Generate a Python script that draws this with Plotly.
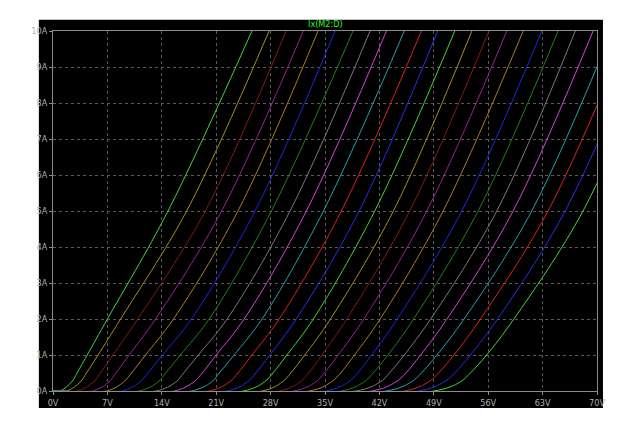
import plotly.graph_objects as go

# Ix(M2:D) family, 25 stepped runs, voltage (V) where each run reaches a given current
onset_v = [0.9, 1.8, 3.2, 5.1, 6.9, 8.9, 11.1, 13.3, 15.6, 17.8, 20.1, 22.4, 24.5, 26.9, 29.1,
           31.0, 33.0, 35.1, 37.1, 39.0, 41.0, 42.9, 45.2, 47.1, 49.0]
at_025A = [2.4, 3.5, 5.2, 7.2, 9.1, 11.2, 13.5, 15.8, 18.1, 20.4, 22.7, 25.0, 27.2, 29.5, 31.8,
           33.8, 35.8, 38.0, 40.0, 42.1, 44.1, 46.1, 48.3, 50.3, 52.4]
at_05A = [3.1, 4.3, 6.1, 8.1, 10.1, 12.2, 14.5, 16.8, 19.2, 21.4, 23.8, 26.1, 28.3, 30.6, 32.9,
          34.9, 37.0, 39.2, 41.2, 43.3, 45.4, 47.4, 49.6, 51.7, 53.7]
at_1A = [4.4, 5.8, 7.7, 9.8, 11.9, 14.1, 16.4, 18.7, 21.0, 23.3, 25.6, 27.9, 30.1, 32.4, 34.6,
         36.7, 38.8, 41.0, 43.1, 45.2, 47.3, 49.4, 51.6, 53.7, 55.8]
at_2A = [7.0, 8.7, 10.9, 13.2, 15.5, 17.8, 20.1, 22.4, 24.6, 26.9, 29.1, 31.3, 33.5, 35.7, 37.8,
         40.0, 42.1, 44.3, 46.4, 48.6, 50.7, 52.9, 55.0, 57.2, 59.3]
at_5A = [14.8, 17.2, 19.6, 21.7, 23.8, 26.0, 28.1, 30.5, 32.6, 34.8, 37.1, 39.4, 41.4, 43.8, 45.9,
         48.1, 50.2, 52.6, 54.7, 57.1, 59.2, 61.6, 63.7, 65.9, 68.2]
at_10A = [25.6, 27.8, 30.0, 32.2, 34.1, 36.3, 38.6, 40.8, 42.9, 45.2, 47.4, 49.5, 51.7, 53.9, 56.1,
          58.4, 60.5, 62.9, 65.0, 67.2, 69.5, 71.9, 74.0, 76.2, 78.5]
levels = [0, 0, 0.25, 0.5, 1, 2, 5, 10]

step_colors = ["#3cd83c", "#a09020", "#881818", "#9c209c", "#a87c24", "#2424d8",
               "#1f801f", "#7a7a7a", "#dc40dc", "#20a4a4", "#dc2020", "#2c2ce8"]

x_ticks = [0, 7, 14, 21, 28, 35, 42, 49, 56, 63, 70]
x_labels = ["0V", "7V", "14V", "21V", "28V", "35V", "42V", "49V", "56V", "63V", "70V"]
y_ticks = list(range(0, 11))
y_labels = [f"{v}A" for v in y_ticks]

fig = go.Figure()
for i in range(len(at_10A)):
    xs = [0, onset_v[i], at_025A[i], at_05A[i], at_1A[i], at_2A[i], at_5A[i], at_10A[i]]
    fig.add_trace(go.Scatter(x=xs, y=levels, mode="lines",
                             line=dict(color=step_colors[i % 12], width=1, shape="spline"),
                             hoverinfo="skip", showlegend=False))

label_font = dict(family="Liberation Sans Narrow, DejaVu Sans Condensed, sans-serif",
                  size=9, color="#b0b0b0")
axis_common = dict(showline=True, linecolor="#8c8c8c", linewidth=1, mirror=True,
                   showgrid=True, gridcolor="#5a5a5a", griddash="dot", gridwidth=1,
                   zeroline=False, ticks="outside", ticklen=3, tickcolor="#8c8c8c",
                   tickfont=label_font)

# page body adds ~8px offset, margins compensate for it
fig.update_layout(
    width=640, height=430,
    margin=dict(l=45, r=51, t=23, b=47),
    paper_bgcolor="white", plot_bgcolor="black",
    xaxis=dict(range=[0, 70], tickvals=x_ticks, ticktext=x_labels, **axis_common),
    yaxis=dict(range=[0, 10], tickvals=y_ticks, ticktext=y_labels, **axis_common),
    shapes=[dict(type="rect", xref="paper", yref="paper", x0=-0.026, x1=1.011,
                 y0=-0.047, y1=1.031, fillcolor="black", line_width=0, layer="below")],
    annotations=[dict(text="Ix(M2:D)", xref="paper", yref="paper", x=0.5, y=1.0,
                      yanchor="bottom", showarrow=False,
                      font=dict(family="Liberation Sans Narrow, DejaVu Sans Condensed, sans-serif",
                                size=9, color="#20ff20"))],
)

fig.write_html("out.html")
